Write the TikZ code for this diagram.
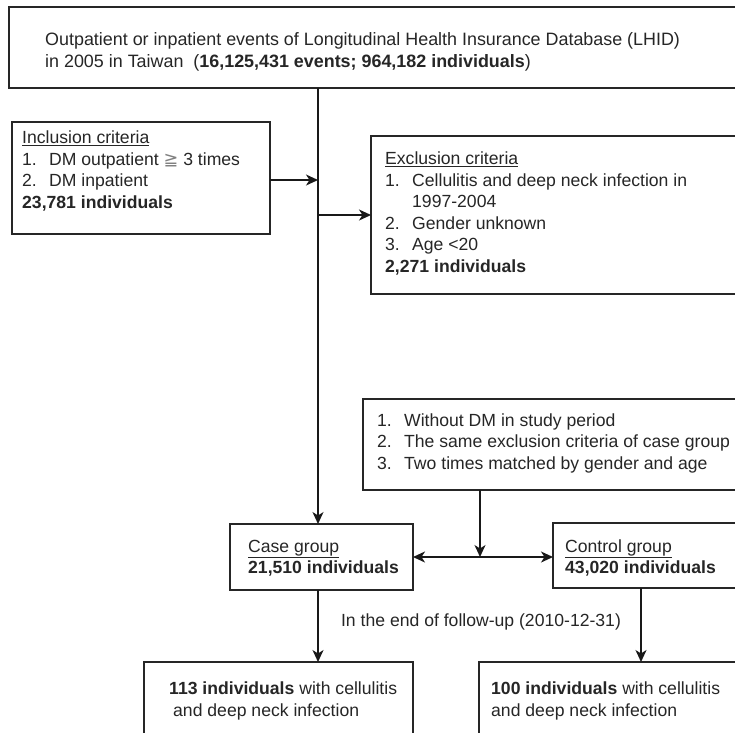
\documentclass[tikz,border=0pt]{standalone}
\usepackage{fontspec}
\setmainfont{Liberation Sans}
\newfontfamily\symf{DejaVu Sans}
\usetikzlibrary{arrows.meta}
\newcommand{\itm}[1]{\makebox[27pt][l]{#1}}
\begin{document}
\begin{tikzpicture}[x=1pt,y=-1pt,
  box/.style={draw=black!85, line width=1.8pt, anchor=north west, inner sep=0pt, outer sep=0pt},
  txt/.style={anchor=west, align=left, inner sep=0pt, font=\fontsize{17.6}{21.5}\selectfont, text=black!85},
  arr/.style={line width=1.6pt, draw=black!90, -{Stealth[length=12pt,width=11pt,inset=3.5pt]}},
  ln/.style={line width=1.6pt, draw=black!90}]
\useasboundingbox (0,0) rectangle (735,732);
\clip (0,0) rectangle (735,732);
\fill[white] (0,0) rectangle (735,732);
% boxes
\node[box, minimum width=736pt, minimum height=81pt] (top) at (9,7) {};
\node[box, minimum width=258pt, minimum height=112pt] (incl) at (12,122) {};
\node[box, minimum width=374pt, minimum height=158pt] (excl) at (371,136) {};
\node[box, minimum width=382pt, minimum height=91pt] (dm) at (363,399) {};
\node[box, minimum width=183pt, minimum height=66pt] (case) at (230,524) {};
\node[box, minimum width=192pt, minimum height=65pt] (ctrl) at (553,523) {};
\node[box, minimum width=269pt, minimum height=100pt] (bl) at (144,662) {};
\node[box, minimum width=266pt, minimum height=100pt] (br) at (479,662) {};
% texts
\node[txt, font=\fontsize{17.9}{21.5}\selectfont] (topt) at (45,52) {Outpatient or inpatient events of Longitudinal Health Insurance Database (LHID)\\ in 2005 in Taiwan\ \ (\textbf{16,125,431 events; 964,182 individuals})};
\node[txt] (inclt) at (22,171) {\underline{Inclusion criteria}\\ \itm{1.}DM outpatient {\symf\color{gray}≧} 3 times\\ \itm{2.}DM inpatient\\ \textbf{23,781 individuals}};
\node[txt] (exclt) at (385,213.5) {\underline{Exclusion criteria}\\ \itm{1.}Cellulitis and deep neck infection in\\ \itm{}1997-2004\\ \itm{2.}Gender unknown\\ \itm{3.}Age <20\\ \textbf{2,271 individuals}};
\node[txt] (dmt) at (377,443) {\itm{1.}Without DM in study period\\ \itm{2.}The same exclusion criteria of case group\\ \itm{3.}Two times matched by gender and age};
\node[txt] (caset) at (248,558) {\underline{Case group}\\ \textbf{21,510 individuals}};
\node[txt] (ctrlt) at (565,558) {\underline{Control group}\\ \textbf{43,020 individuals}};
\node[txt] (blt) at (169,701) {\textbf{113 individuals} with cellulitis\\ \hspace*{4pt}and deep neck infection};
\node[txt] (brt) at (491,701) {\textbf{100 individuals} with cellulitis\\ and deep neck infection};
\node[txt, anchor=center] (fu) at (481,622) {In the end of follow-up (2010-12-31)};
% connectors
\coordinate (spine) at (318,0);
\coordinate (junc) at (480,557);
\coordinate (cx) at (641,0);
\draw[arr] (top.south -| spine) -- (case.north -| spine);
\draw[arr] (incl.east |- 0,180) -- (spine |- 0,180);
\draw[arr] (excl.west -| spine) -- (excl.west);
\draw[arr] (dm.south -| junc) -- (junc);
\draw[arr] (junc) -- (case.east |- junc);
\draw[arr] (junc) -- (ctrl.west |- junc);
\draw[arr] (case.south -| spine) -- (bl.north -| spine);
\draw[arr] (ctrl.south -| cx) -- (br.north -| cx);
\end{tikzpicture}
\end{document}
